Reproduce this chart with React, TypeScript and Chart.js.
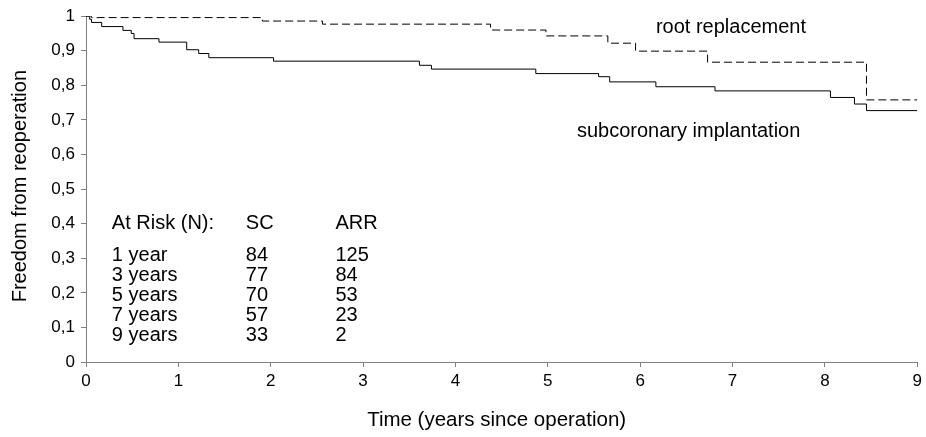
import React, { useEffect, useRef } from "react";
import { Chart, registerables } from "chart.js";

Chart.register(...registerables);

const FONT = "'Liberation Sans', Arial, Helvetica, sans-serif";

// Subcoronary implantation (SC) – Kaplan-Meier steps
const scTimes = [0, 0.04, 0.06, 0.17, 0.4, 0.49, 0.52, 0.79, 1.09, 1.22, 1.33, 2.03, 3.61, 3.74, 4.87, 5.55, 5.67, 6.17, 6.81, 8.06, 8.32, 8.45, 9];
const scSurvival = [1, 0.991, 0.982, 0.97, 0.959, 0.95, 0.935, 0.925, 0.903, 0.892, 0.88, 0.87, 0.858, 0.847, 0.834, 0.825, 0.81, 0.796, 0.784, 0.765, 0.746, 0.727, 0.727];

// Aortic root replacement (ARR)
const arrTimes = [0, 0.06, 1.91, 2.56, 4.38, 4.98, 5.65, 5.95, 6.73, 8.45, 9];
const arrSurvival = [1, 0.996, 0.986, 0.977, 0.96, 0.943, 0.922, 0.899, 0.867, 0.758, 0.758];

const xTicks = [0, 1, 2, 3, 4, 5, 6, 7, 8, 9];
const yTickLabels = ["0", "0,1", "0,2", "0,3", "0,4", "0,5", "0,6", "0,7", "0,8", "0,9", "1"];

const xTitle = "Time (years since operation)";
const yTitle = "Freedom from reoperation";

const seriesLabels = ["subcoronary implantation", "root replacement"];

// At-risk table
const riskHeader = ["At Risk (N):", "SC", "ARR"];
const riskRowLabels = ["1 year", "3 years", "5 years", "7 years", "9 years"];
const riskSC = [84, 77, 70, 57, 33];
const riskARR = [125, 84, 53, 23, 2];

const textPlugin = {
  id: "kmTexts",
  afterDraw(chart: any) {
    const { ctx, scales } = chart;
    const x = scales.x;
    const y = scales.y;
    ctx.save();
    ctx.fillStyle = "#000";
    ctx.font = `20px ${FONT}`;
    ctx.textBaseline = "middle";
    ctx.textAlign = "left";

    // curve annotations
    ctx.fillText(seriesLabels[1], x.getPixelForValue(6.17), y.getPixelForValue(0.968));
    ctx.fillText(seriesLabels[0], x.getPixelForValue(5.315), y.getPixelForValue(0.667));

    // at-risk table
    const cols = [0.28, 1.73, 2.7];
    const headerY = y.getPixelForValue(0.402);
    riskHeader.forEach((t, i) => ctx.fillText(t, x.getPixelForValue(cols[i]), headerY));
    riskRowLabels.forEach((lab, r) => {
      const py = y.getPixelForValue(0.307 - r * 0.0573);
      ctx.fillText(lab, x.getPixelForValue(cols[0]), py);
      ctx.fillText(String(riskSC[r]), x.getPixelForValue(cols[1]), py);
      ctx.fillText(String(riskARR[r]), x.getPixelForValue(cols[2]), py);
    });

    // axis titles
    ctx.textAlign = "center";
    ctx.font = `20.5px ${FONT}`;
    ctx.fillText(xTitle, (x.left + x.right) / 2 - 5, 420);
    ctx.font = `20px ${FONT}`;
    ctx.translate(20, (y.top + y.bottom) / 2 - 3);
    ctx.rotate(-Math.PI / 2);
    ctx.fillText(yTitle, 0, 0);
    ctx.restore();
  },
};

export default function App() {
  const ref = useRef<HTMLCanvasElement | null>(null);

  useEffect(() => {
    const canvas = ref.current;
    if (!canvas) return;
    const axisColor = "#808080";
    const chart = new Chart(canvas, {
      type: "line",
      data: {
        datasets: [
          {
            label: seriesLabels[0],
            data: scTimes.map((t, i) => ({ x: t, y: scSurvival[i] })),
            borderColor: "#000",
            borderWidth: 1,
            pointRadius: 0,
            stepped: "before",
            fill: false,
          },
          {
            label: seriesLabels[1],
            data: arrTimes.map((t, i) => ({ x: t, y: arrSurvival[i] })),
            borderColor: "#000",
            borderWidth: 1,
            borderDash: [8, 4],
            pointRadius: 0,
            stepped: "before",
            fill: false,
          },
        ],
      },
      options: {
        animation: false,
        responsive: false,
        devicePixelRatio: 1,
        layout: { padding: { top: 14, right: 7, left: 0, bottom: 0 } },
        plugins: {
          legend: { display: false },
          tooltip: { enabled: false },
        },
        scales: {
          x: {
            type: "linear",
            min: xTicks[0],
            max: xTicks[xTicks.length - 1],
            afterFit: (s: any) => {
              s.height = 75;
            },
            afterBuildTicks: (s: any) => {
              s.ticks = xTicks.map((v) => ({ value: v }));
            },
            ticks: {
              color: "#000",
              font: { family: FONT, size: 17 },
              padding: 4,
              maxRotation: 0,
              callback: (v: any) => String(v),
            },
            grid: {
              display: true,
              drawOnChartArea: false,
              drawTicks: true,
              tickLength: 5,
              color: axisColor,
            },
            border: { display: true, color: axisColor, width: 1 },
          },
          y: {
            type: "linear",
            min: 0,
            max: 1,
            afterFit: (s: any) => {
              s.width = 86;
            },
            afterBuildTicks: (s: any) => {
              s.ticks = yTickLabels.map((_, i) => ({ value: i / 10 }));
            },
            ticks: {
              color: "#000",
              font: { family: FONT, size: 17 },
              padding: 6,
              callback: (_v: any, i: number) => yTickLabels[i],
            },
            grid: {
              display: true,
              drawOnChartArea: false,
              drawTicks: true,
              tickLength: 5,
              color: axisColor,
            },
            border: { display: true, color: axisColor, width: 1 },
          },
        },
      },
      plugins: [textPlugin],
    });
    return () => chart.destroy();
  }, []);

  return (
    <div style={{ position: "absolute", left: 0, top: 0, width: 926, height: 437, background: "#fff" }}>
      <canvas ref={ref} width={926} height={437} style={{ width: 926, height: 437, display: "block" }} />
    </div>
  );
}
